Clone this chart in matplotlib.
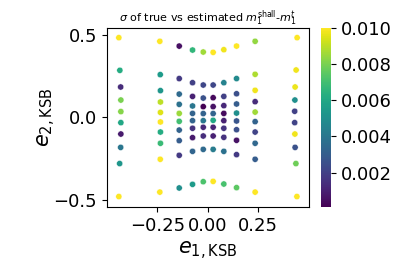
import numpy as np
import matplotlib
matplotlib.use("Agg")
import matplotlib.pyplot as plt

# one list per grid column (left to right), points top to bottom
e1_cols = [
    [-0.441, -0.436, -0.432, -0.431, -0.431, -0.431, -0.431, -0.432, -0.437, -0.441],
    [-0.238, -0.236, -0.235, -0.235, -0.235, -0.235, -0.235, -0.235, -0.236, -0.238],
    [-0.142, -0.142, -0.142, -0.142, -0.142, -0.142, -0.142, -0.142, -0.142, -0.142],
    [-0.076, -0.076, -0.076, -0.076, -0.076, -0.076, -0.076, -0.076, -0.076, -0.076],
    [-0.023, -0.023, -0.023, -0.023, -0.023, -0.023, -0.023, -0.023, -0.023, -0.023],
    [0.026, 0.026, 0.026, 0.026, 0.026, 0.026, 0.026, 0.026, 0.026, 0.026],
    [0.079, 0.079, 0.079, 0.079, 0.079, 0.079, 0.079, 0.079, 0.079, 0.079],
    [0.142, 0.142, 0.142, 0.142, 0.142, 0.142, 0.142, 0.142, 0.142, 0.142],
    [0.234, 0.234, 0.234, 0.234, 0.234, 0.234, 0.234, 0.234, 0.234, 0.234],
    [0.442, 0.437, 0.432, 0.431, 0.430, 0.430, 0.431, 0.432, 0.436, 0.441],
]

e2_cols = [
    [0.481, 0.283, 0.182, 0.103, 0.033, -0.034, -0.103, -0.184, -0.282, -0.482],
    [0.459, 0.257, 0.160, 0.091, 0.028, -0.030, -0.091, -0.159, -0.256, -0.455],
    [0.430, 0.233, 0.139, 0.077, 0.022, -0.026, -0.079, -0.143, -0.232, -0.430],
    [0.406, 0.208, 0.125, 0.067, 0.022, -0.022, -0.068, -0.125, -0.208, -0.408],
    [0.394, 0.194, 0.115, 0.063, 0.021, -0.022, -0.062, -0.115, -0.196, -0.392],
    [0.392, 0.194, 0.117, 0.063, 0.021, -0.020, -0.062, -0.115, -0.196, -0.390],
    [0.408, 0.208, 0.125, 0.069, 0.022, -0.022, -0.068, -0.123, -0.208, -0.406],
    [0.430, 0.233, 0.141, 0.079, 0.024, -0.024, -0.077, -0.141, -0.228, -0.428],
    [0.459, 0.259, 0.162, 0.093, 0.030, -0.028, -0.091, -0.159, -0.256, -0.455],
    [0.481, 0.285, 0.182, 0.103, 0.035, -0.034, -0.103, -0.184, -0.282, -0.482],
]

sigma_cols = [
    [0.0105, 0.0062, 0.0013, 0.0080, 0.0082, 0.0060, 0.0008, 0.0040, 0.0053, 0.0110],
    [0.0105, 0.0055, 0.0053, 0.0090, 0.0095, 0.0100, 0.0062, 0.0068, 0.0100, 0.0105],
    [0.0005, 0.0018, 0.0035, 0.0038, 0.0085, 0.0070, 0.0032, 0.0030, 0.0018, 0.0050],
    [0.0066, 0.0020, 0.0010, 0.0040, 0.0032, 0.0032, 0.0015, 0.0008, 0.0033, 0.0055],
    [0.0086, 0.0022, 0.0026, 0.0001, 0.0032, 0.0040, 0.0012, 0.0014, 0.0035, 0.0072],
    [0.0102, 0.0022, 0.0003, 0.0006, 0.0033, 0.0060, 0.0011, 0.0010, 0.0042, 0.0105],
    [0.0098, 0.0045, 0.0020, 0.0012, 0.0004, 0.0010, 0.0016, 0.0015, 0.0038, 0.0071],
    [0.0102, 0.0048, 0.0025, 0.0030, 0.0050, 0.0027, 0.0025, 0.0006, 0.0018, 0.0075],
    [0.0084, 0.0088, 0.0098, 0.0013, 0.0086, 0.0032, 0.0021, 0.0034, 0.0030, 0.0102],
    [0.0102, 0.0098, 0.0097, 0.0050, 0.0020, 0.0021, 0.0098, 0.0026, 0.0078, 0.0104],
]

e1 = np.array(e1_cols).ravel()
e2 = np.array(e2_cols).ravel()
sigma = np.array(sigma_cols).ravel()

fig = plt.figure(figsize=(3.99, 2.66), dpi=100)
ax = fig.add_axes([0.268, 0.222, 0.506, 0.673])
cax = fig.add_axes([0.804, 0.222, 0.025, 0.673])

sc = ax.scatter(e1, e2, c=sigma, cmap="viridis", vmin=sigma.min(), vmax=0.01,
                s=20, edgecolors="white", linewidths=0.3)
ax.set_xlim(-0.5, 0.5)
ax.set_ylim(-0.545, 0.54)
ax.set_xticks([-0.25, 0.0, 0.25])
ax.set_yticks([-0.5, 0.0, 0.5])
ax.tick_params(labelsize=13)
ax.set_xlabel(r"$e_{1,\rm KSB}$", fontsize=15, labelpad=4)
ax.set_ylabel(r"$e_{2,\rm KSB}$", fontsize=15, labelpad=-3)
ax.set_title(r"$\sigma$ of true vs estimated $m_1^{\rm shall}$-$m_1^{t}$", fontsize=8, pad=3)

cb = fig.colorbar(sc, cax=cax)
cb.set_ticks([0.002, 0.004, 0.006, 0.008, 0.010])
cb.ax.tick_params(labelsize=13)
cb.outline.set_visible(False)

fig.savefig("out.png", dpi=100)
